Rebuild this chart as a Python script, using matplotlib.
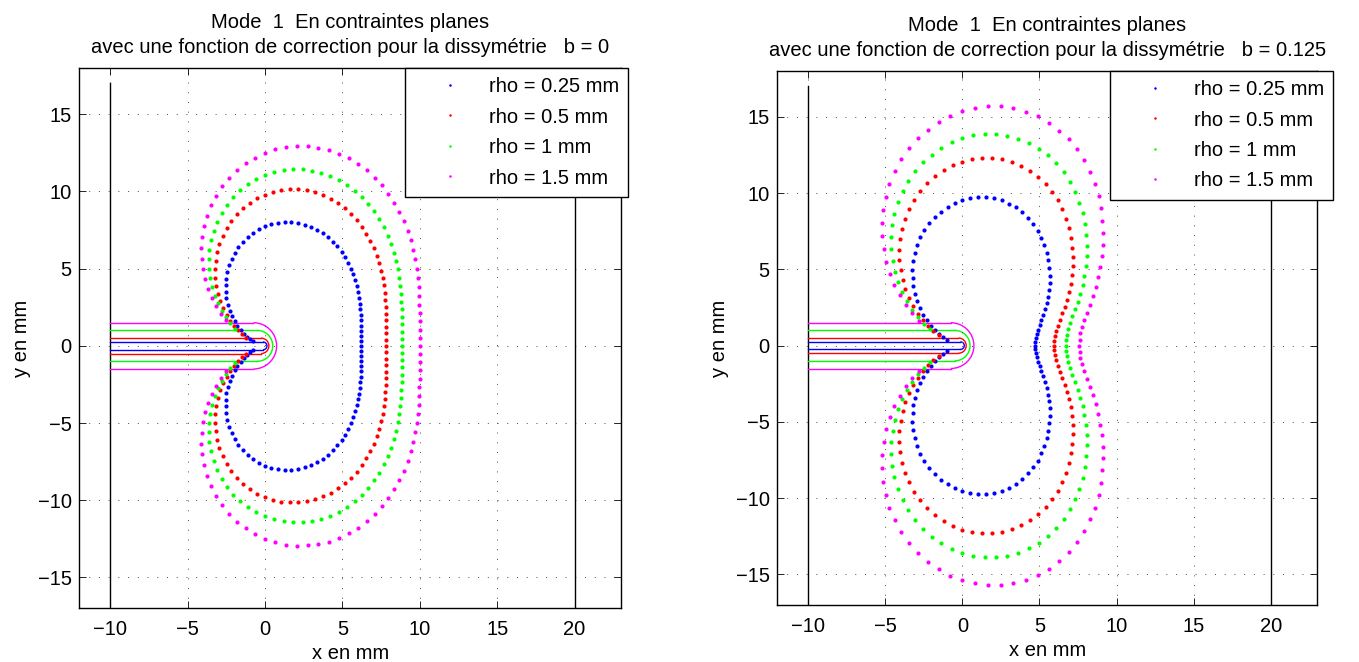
import numpy as np
import matplotlib.pyplot as plt
from matplotlib.patches import Arc

plt.rcParams['font.family'] = ['Liberation Sans', 'DejaVu Sans']
plt.rcParams['font.size'] = 14.5

# rayons d'entaille et legende
rho = [0.25, 0.5, 1, 1.5]
couleurs = ['#0000ff', '#ff0000', '#00ff00', '#ff00ff']
etiquettes = ['rho = 0.25 mm', 'rho = 0.5 mm', 'rho = 1 mm', 'rho = 1.5 mm']

# angle polaire (deg) depuis le fond d'entaille, demi-contour superieur
theta_deg = np.arange(0, 163, 3)

# forme relative du contour r(theta)/taille
forme_b0 = [1.0000, 1.0014, 1.0055, 1.0122, 1.0215, 1.0332, 1.0471, 1.0631, 1.0809, 1.1001,
            1.1205, 1.1418, 1.1636, 1.1856, 1.2074, 1.2286, 1.2488, 1.2676, 1.2848, 1.2999,
            1.3125, 1.3224, 1.3293, 1.3329, 1.3329, 1.3292, 1.3215, 1.3099, 1.2941, 1.2741,
            1.2500, 1.2218, 1.1895, 1.1534, 1.1136, 1.0704, 1.0239, 0.9745, 0.9226, 0.8684,
            0.8125, 0.7552, 0.6970, 0.6383, 0.5796, 0.5214, 0.4642, 0.4085, 0.3546, 0.3031,
            0.2545, 0.2091, 0.1673, 0.1295, 0.0961]
forme_b0125 = [0.7580, 0.7610, 0.7702, 0.7855, 0.8070, 0.8359, 0.8702, 0.9079, 0.9479, 0.9901,
               1.0342, 1.0802, 1.1276, 1.1749, 1.2231, 1.2728, 1.3199, 1.3652, 1.4081, 1.4480,
               1.4844, 1.5168, 1.5433, 1.5648, 1.5795, 1.5884, 1.5911, 1.5876, 1.5775, 1.5608,
               1.5375, 1.5089, 1.4738, 1.4337, 1.3887, 1.3390, 1.2839, 1.2249, 1.1624, 1.0968,
               1.0286, 0.9576, 0.8852, 0.8119, 0.7384, 0.6654, 0.5933, 0.5228, 0.4546, 0.3892,
               0.3273, 0.2693, 0.2158, 0.1674, 0.1243]

# taille de zone (mm) par rho, et nb de points visibles hors entaille
taille_b0 = [6.2, 7.84, 8.84, 10.0]
taille_b0125 = [6.2, 7.84, 8.84, 10.0]
nvis_b0 = [54, 53, 51, 50]
nvis_b0125 = [54, 53, 52, 51]

# bords de l'eprouvette
bords_x = [-10, 20]
bords_y = [-17, 17]

titre = 'Mode  1  En contraintes planes\navec une fonction de correction pour la dissymétrie   b = '


def trace(ax, forme, tailles, nvis, b, leg_x):
    for xb in bords_x:
        ax.plot([xb, xb], bords_y, color='k', lw=1)
    # entailles
    for i in range(len(rho)):
        r0 = rho[i]
        ax.plot([-10, -r0 / 2], [r0, r0], color=couleurs[i], lw=1)
        ax.plot([-10, -r0 / 2], [-r0, -r0], color=couleurs[i], lw=1)
        ax.add_patch(Arc((-r0 / 2, 0), 2 * r0, 2 * r0, theta1=-90, theta2=90,
                         color=couleurs[i], lw=1))
    # zones plastiques
    for i in range(len(rho)):
        n = nvis[i]
        t = np.radians(theta_deg[:n])
        r = tailles[i] * np.array(forme[:n])
        t = np.concatenate([-t[:0:-1], t])
        r = np.concatenate([r[:0:-1], r])
        ax.plot(r * np.cos(t), r * np.sin(t), ls='none', marker='o', ms=3, mew=0,
                color=couleurs[i], label=etiquettes[i])

    ax.set_xlim(-12, 23)
    ax.set_ylim(-17, 18)
    ax.set_xticks(range(-10, 21, 5))
    ax.set_yticks(range(-15, 16, 5))
    ax.grid(True, ls=(0, (1, 9)), lw=0.7, color='0.3')
    ax.tick_params(axis='x', direction='in', top=True, length=5, width=0.6, pad=8.6)
    ax.tick_params(axis='y', direction='in', right=True, length=5, width=0.6, pad=5.5)
    for s in ax.spines.values():
        s.set_linewidth(1)
    ax.set_title(titre + b, fontsize=14.5, pad=11, linespacing=1.4)
    ax.set_xlabel('x en mm', labelpad=3.7)
    ax.set_ylabel('y en mm', labelpad=4.7)
    leg = ax.legend(loc='upper left', bbox_to_anchor=(leg_x, 1.0), borderaxespad=0,
                    fontsize=14.5, handlelength=3.575, handletextpad=0.15, borderpad=0.45,
                    labelspacing=0.57, markerscale=0.6, fancybox=False, framealpha=1,
                    edgecolor='k')
    leg.get_frame().set_linewidth(1)


fig = plt.figure(figsize=(13.59, 6.62), dpi=100)
ax1 = fig.add_axes([79.3 / 1359, 53.7 / 662, 541.7 / 1359, 540.3 / 662])
ax2 = fig.add_axes([777.3 / 1359, 57 / 662, 539.7 / 1359, 534 / 662])

trace(ax1, forme_b0, taille_b0, nvis_b0, '0', 0.601)
trace(ax2, forme_b0125, taille_b0125, nvis_b0125, '0.125', 0.616)

fig.savefig('out.png', dpi=100)
